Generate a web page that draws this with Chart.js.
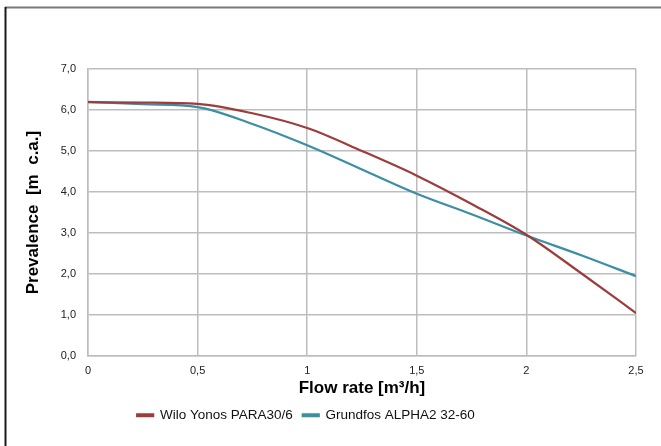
<!DOCTYPE html>
<html>
<head>
<meta charset="utf-8">
<script src="https://cdn.jsdelivr.net/npm/chart.js@4.4.0/dist/chart.umd.min.js"></script>
<style>
  html, body { margin: 0; padding: 0; background: #fff; }
  #wrap { width: 661px; height: 446px; position: relative; }
</style>
</head>
<body>
<div id="wrap"><canvas id="myChart"></canvas></div>
<script>
const flow = [0, 0.25, 0.5, 0.75, 1, 1.25, 1.5, 1.75, 2, 2.25, 2.5];
const wilo = [6.19, 6.18, 6.15, 5.92, 5.56, 5.0, 4.4, 3.71, 2.96, 2.02, 1.05];
const grundfos = [6.2, 6.14, 6.07, 5.66, 5.14, 4.55, 3.96, 3.46, 2.94, 2.46, 1.95];
const seriesNames = ['Wilo Yonos PARA30/6', 'Grundfos ALPHA2 32-60'];

const comma = (v, d) => (d == null ? String(v) : v.toFixed(d)).replace('.', ',');
const pts = (ys) => flow.map((x, i) => ({ x: x, y: ys[i] }));

// outer frame (top + left edge only, like the source image)
const frame = {
  id: 'frame',
  beforeDraw(chart) {
    const c = chart.ctx;
    c.save();
    c.fillStyle = '#fff';
    c.fillRect(0, 0, chart.width, chart.height);
    c.strokeStyle = '#7a7a7a';
    c.lineWidth = 2;
    c.beginPath();
    c.moveTo(5, 7.5);
    c.lineTo(chart.width, 7.5);
    c.stroke();
    c.strokeStyle = '#1a1a1a';
    c.beginPath();
    c.moveTo(5.5, 7);
    c.lineTo(5.5, chart.height);
    c.stroke();
    c.restore();
  },
};

// nudge legend a bit left, as in the original
const legendShift = {
  id: 'legendShift',
  afterLayout(chart) {
    chart.legend.left -= 12;
    chart.legend.right -= 12;
  },
};

Chart.defaults.font.family = '"Liberation Sans", Arial, sans-serif';
Chart.defaults.color = '#222';

const ctx = document.getElementById('myChart').getContext('2d');

// eslint-disable-next-line no-undef, no-unused-vars
const chart = new Chart(ctx, {
  type: 'line',
  data: {
    datasets: [
      {
        label: seriesNames[0],
        data: pts(wilo),
        borderColor: '#9e3b3b',
        backgroundColor: '#9e3b3b',
        borderWidth: 2.2,
        pointRadius: 0,
        cubicInterpolationMode: 'monotone',
      },
      {
        label: seriesNames[1],
        data: pts(grundfos),
        borderColor: '#3b8fa3',
        backgroundColor: '#3b8fa3',
        borderWidth: 2.2,
        pointRadius: 0,
        cubicInterpolationMode: 'monotone',
      },
    ],
  },
  options: {
    responsive: true,
    maintainAspectRatio: false,
    animation: false,
    layout: { padding: { top: 69, right: 25, bottom: 14, left: 0 } },
    plugins: {
      tooltip: { enabled: false },
      legend: {
        position: 'bottom',
        labels: {
          boxWidth: 16,
          boxHeight: 2,
          padding: 10,
          color: '#111',
          font: { size: 13.5 },
        },
      },
    },
    scales: {
      x: {
        type: 'linear',
        min: 0,
        max: 2.5,
        afterFit: (s) => { s.height = 42.4; },
        grid: { color: '#bdbdbd', lineWidth: 1.5, drawTicks: false },
        border: { color: '#bdbdbd', width: 1.5 },
        ticks: {
          stepSize: 0.5,
          padding: 8,
          color: '#222',
          font: { size: 11 },
          callback: (v) => comma(v),
        },
        title: {
          display: true,
          text: 'Flow rate [m³/h]',
          color: '#000',
          font: { size: 17, weight: 'bold' },
          padding: { top: 0, bottom: 0 },
        },
      },
      y: {
        min: 0,
        max: 7,
        afterFit: (s) => { s.width = 88; },
        grid: { color: '#bdbdbd', lineWidth: 1.5, drawTicks: false },
        border: { color: '#bdbdbd', width: 1.5 },
        ticks: {
          stepSize: 1,
          padding: 12,
          color: '#222',
          font: { size: 11 },
          callback: (v) => comma(v, 1),
        },
        title: {
          display: true,
          text: 'Prevalence  [m  c.a.]',
          color: '#000',
          font: { size: 17, weight: 'bold' },
          padding: { top: 23, bottom: 0 },
        },
      },
    },
  },
  plugins: [frame, legendShift],
});
</script>
</body>
</html>
